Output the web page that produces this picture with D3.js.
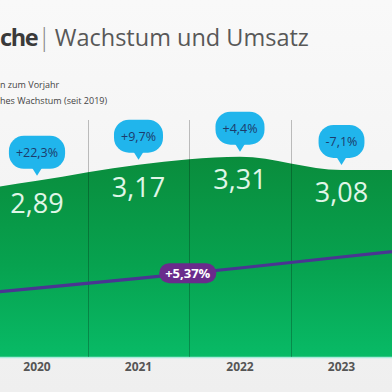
<!DOCTYPE html>
<html><head><meta charset="utf-8">
<script src="https://cdn.jsdelivr.net/npm/d3@7"></script>
<style>html,body{margin:0;padding:0;background:#f4f4f4;} svg{display:block;font-family:"Open Sans",sans-serif;}</style>
</head><body><svg id="c" width="392" height="392"></svg>
<script>
// ---- data ----
const years = [2020, 2021, 2022, 2023];
const revenue = [2.89, 3.17, 3.31, 3.08];
const revenueLabels = ["2,89", "3,17", "3,31", "3,08"];
const growthLabels = ["+22,3%", "+9,7%", "+4,4%", "-7,1%"];
const edgeYears = [2019, 2024];
const edgeRevenue = [2.62, 3.08];
const trendYears = [2019, 2020, 2021, 2022, 2023, 2024];
const trendIndex = [0.95, 1.00, 1.054, 1.110, 1.170, 1.23];
const cagrLabel = "+5,37%";
const titleBold = "che";
const titleRest = "Wachstum und Umsatz";
const legendLines = ["n zum Vorjahr", "hes Wachstum (seit 2019)"];

// ---- setup ----
const svg = d3.select("#c");
const W = 392, H = 392, bottom = 357;
const x = d3.scaleLinear().domain([2020, 2023]).range([37, 341.5]);
const y = d3.scaleLinear().domain([2, 3.5]).range([232.1, 145.7]);
const yT = d3.scaleLinear().domain([1.0, 1.17]).range([288.2, 257]);
const trendAt = d3.scaleLinear().domain(trendYears).range(trendIndex);

const defs = svg.append("defs");
const bg = defs.append("linearGradient").attr("id", "bg").attr("x1", 0).attr("y1", 0).attr("x2", 0).attr("y2", 1);
bg.append("stop").attr("offset", "0%").attr("stop-color", "#f9f9f9");
bg.append("stop").attr("offset", "100%").attr("stop-color", "#efefef");
const gg = defs.append("linearGradient").attr("id", "green").attr("gradientUnits", "userSpaceOnUse")
  .attr("x1", 0).attr("y1", 150).attr("x2", 0).attr("y2", bottom);
gg.append("stop").attr("offset", "0%").attr("stop-color", "#0a8b3b");
gg.append("stop").attr("offset", "55%").attr("stop-color", "#07a24f");
gg.append("stop").attr("offset", "100%").attr("stop-color", "#08ba66");

svg.append("rect").attr("width", W).attr("height", H).attr("fill", "url(#bg)");

// title: one text element, tspans positioned with dx
const title = svg.append("text").attr("x", 0).attr("y", 46).attr("font-size", 23.5);
const tBold = title.append("tspan").attr("font-weight", 700).attr("fill", "#3a3a3a")
  .attr("letter-spacing", -1.4).text(titleBold);
const tPipe = title.append("tspan").attr("font-size", 26).attr("font-weight", 300).attr("fill", "#8a8a8a").text("|");
const tRest = title.append("tspan").attr("fill", "#585858").text(titleRest);
const boldEnd = tBold.node().getComputedTextLength();
const pipeW = tPipe.node().getComputedTextLength();
tPipe.attr("dx", Math.max(0, 41.5 - pipeW / 2 - boldEnd));
tRest.attr("dx", Math.max(0, 52 - (41.5 + pipeW / 2)));

// legend
svg.selectAll("text.leg").data(legendLines).join("text").attr("class", "leg")
  .attr("x", 0).attr("y", (d, i) => 88 + i * 15.5)
  .attr("font-size", 9).attr("fill", "#444").text(d => d);

// area
const pts = [[edgeYears[0], edgeRevenue[0]], ...years.map((yr, i) => [yr, revenue[i]]), [edgeYears[1], edgeRevenue[1]]];
const area = d3.area().x(d => x(d[0])).y0(bottom).y1(d => y(d[1])).curve(d3.curveMonotoneX);
svg.append("path").datum(pts).attr("d", area).attr("fill", "url(#green)");
svg.append("line").attr("x1", 0).attr("x2", W).attr("y1", bottom + 0.5).attr("y2", bottom + 0.5)
  .attr("stroke", "#a8eadb").attr("stroke-width", 1.5);

// separators
svg.selectAll("line.sep").data(years.slice(0, 3)).join("line").attr("class", "sep")
  .attr("x1", d => Math.round(x(d + 0.5)) + 0.5).attr("x2", d => Math.round(x(d + 0.5)) + 0.5)
  .attr("y1", 120).attr("y2", bottom)
  .attr("stroke", "rgba(0,0,0,0.24)").attr("stroke-width", 1);

// trend line
const trendPts = trendYears.map((yr, i) => [yr, trendIndex[i]]);
svg.append("path").datum(trendPts)
  .attr("d", d3.line().x(d => x(d[0])).y(d => yT(d[1])))
  .attr("fill", "none").attr("stroke", "#4a3592").attr("stroke-width", 3.2);

// CAGR pill
const pillX = x(2021.5) - 1.5, pillY = yT(trendAt(2021.5));
const pg = svg.append("g").attr("transform", `translate(${pillX},${pillY})`);
const pr = pg.append("rect").attr("fill", "#6a2b8c");
const pt = pg.append("text").attr("text-anchor", "middle").attr("y", 4.5)
  .attr("font-size", 13).attr("font-weight", 700).attr("fill", "#fff").text(cagrLabel);
const pw = pt.node().getComputedTextLength() + 12;
pr.attr("x", -pw / 2).attr("y", -10).attr("width", pw).attr("height", 20).attr("rx", 10);

// value labels
svg.selectAll("text.val").data(years).join("text").attr("class", "val")
  .attr("x", d => x(d)).attr("y", (d, i) => y(revenue[i]) + 32)
  .attr("text-anchor", "middle").attr("font-size", 27).attr("fill", "#e0f6e8")
  .text((d, i) => revenueLabels[i]);

// bubbles
years.forEach((yr, i) => {
  const tip = y(revenue[i]) - 5;
  const bb = tip - 7, bh = 33, bt = bb - bh;
  const g = svg.append("g");
  const t = g.append("text").attr("x", x(yr)).attr("y", bt + bh / 2 + 4.5)
    .attr("text-anchor", "middle").attr("font-size", 12.5).attr("fill", "#1d3b6b").text(growthLabels[i]);
  const w = t.node().getComputedTextLength() + 14;
  g.insert("rect", "text").attr("x", x(yr) - w / 2).attr("y", bt).attr("width", w).attr("height", bh)
    .attr("rx", 15).attr("fill", "#20b5ec");
  g.insert("path", "text").attr("d", `M${x(yr) - 5},${bb - 1}L${x(yr) + 5},${bb - 1}L${x(yr)},${tip}Z`).attr("fill", "#20b5ec");
});

// year labels
svg.selectAll("text.yr").data(years).join("text").attr("class", "yr")
  .attr("x", d => x(d)).attr("y", 371).attr("text-anchor", "middle")
  .attr("font-size", 12).attr("font-weight", 700).attr("fill", "#555").text(d => d);
</script></body></html>
